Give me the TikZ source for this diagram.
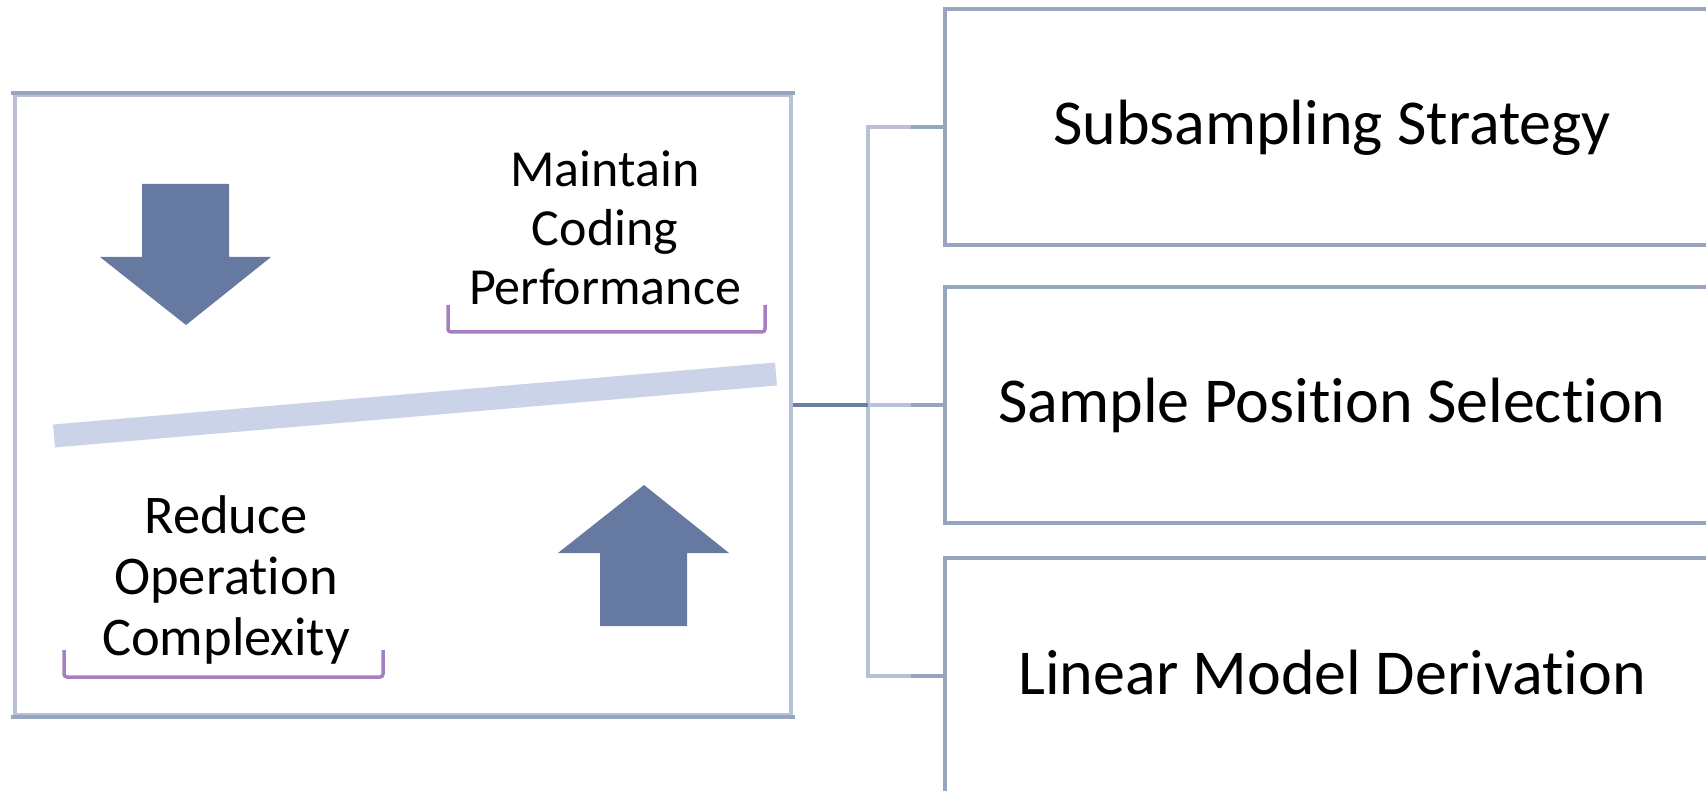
\documentclass[tikz,border=0pt]{standalone}
\usepackage{fontspec}
\setmainfont{Carlito}[Ligatures={NoCommon}, RawFeature={-clig;-liga}]
\definecolor{boxline}{HTML}{98A5BF}
\definecolor{boxlight}{HTML}{B8C1D5}
\definecolor{conndark}{HTML}{6B7DA3}
\definecolor{arrowfill}{HTML}{6679A0}
\definecolor{beam}{HTML}{CAD3E7}
\definecolor{brace}{HTML}{A57FC1}
\tikzset{
  rightbox/.style={draw=boxline, line width=4pt, minimum width=774pt, minimum height=236pt, inner sep=0pt, text height=42pt, text depth=6pt, font=\fontsize{64}{77}\selectfont},
  leftbox/.style={draw=boxlight, line width=4pt, minimum width=776pt, minimum height=619pt, inner sep=0pt},
  edgedark/.style={draw=boxline, line width=4pt},
  lightconn/.style={draw=boxlight, line width=4pt},
  midconn/.style={draw=boxline, line width=4pt},
  darkconn/.style={draw=conndark, line width=4pt},
  bigarrow/.style={fill=arrowfill, draw=none},
  beambar/.style={draw=beam, line width=23pt},
  bracket/.style={draw=brace, line width=3.5pt, rounded corners=3pt},
  goaltext/.style={align=center, anchor=base, inner sep=0pt}
}
\begin{document}
\begin{tikzpicture}[x=1pt,y=-1pt]
\useasboundingbox (0,0) rectangle (1706,791);
\begin{scope}
\clip (0,0) rectangle (1706,791);
% left box
\node[leftbox] (main) at (402.5,405) {};
\draw[edgedark] ([xshift=-2pt]main.north west) -- ([xshift=2pt]main.north east);
\draw[edgedark] ([xshift=-2pt]main.south west) -- ([xshift=2pt]main.south east);
% right boxes
\node[rightbox] (b1) at (1332,127) {Subsampling Strategy};
\node[rightbox] (b2) at (1332,405) {Sample Position Selection};
\node[rightbox] (b3) at (1332,676) {Linear Model Derivation};
% connectors
\coordinate (j) at (868,405);
\draw[lightconn] (j) |- (b1.west);
\draw[lightconn] (j) |- (b3.west);
\draw[lightconn] (j) -- (b2.west);
\draw[midconn] ([xshift=-32pt]b1.west) -- (b1.west);
\draw[midconn] ([xshift=-32pt]b2.west) -- (b2.west);
\draw[midconn] ([xshift=-32pt]b3.west) -- (b3.west);
\draw[darkconn] (main.east) -- (j);
% beam
\draw[beambar] (54,436) -- (776,374);
% arrows
\fill[bigarrow] (142,184) -- (229,184) -- (229,257) -- (271,257) -- (186,325) -- (100,257) -- (142,257) -- cycle;
\fill[bigarrow] (644,485) -- (729,553) -- (687,553) -- (687,626) -- (600,626) -- (600,553) -- (558,553) -- cycle;
% texts
\node[goaltext, font=\fontsize{52}{59}\selectfont] (keep) at (605,305) {Maintain\\Coding\\Performance};
\node[goaltext, font=\fontsize{54.5}{61}\selectfont] (cut) at (226,655) {Reduce\\Operation\\Complexity};
% brackets
\draw[bracket] (448,305) -- (448,332) -- (765,332) -- (765,305);
\draw[bracket] (64,650) -- (64,677) -- (383,677) -- (383,650);
\end{scope}
\end{tikzpicture}
\end{document}
